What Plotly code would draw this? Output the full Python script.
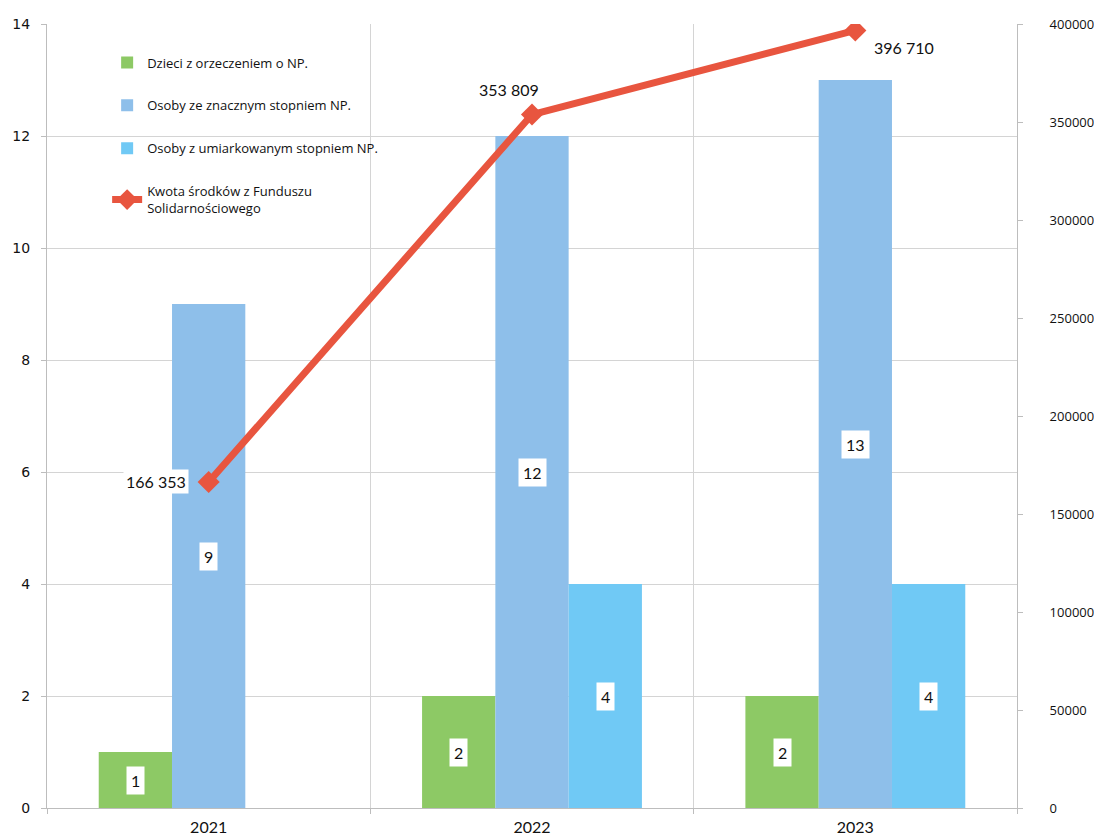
import plotly.graph_objects as go

# Dane
lata = ["2021", "2022", "2023"]
dzieci = [1, 2, 2]
znaczny = [9, 12, 13]
umiarkowany = [None, 4, 4]
kwota = [166353, 353809, 396710]

nazwy = [
    "Dzieci z orzeczeniem o NP.",
    "Osoby ze znacznym stopniem NP.",
    "Osoby z umiarkowanym stopniem NP.",
    "Kwota środków z Funduszu<br>Solidarnościowego",
]
kolory = ["#8DC965", "#8EBFEA", "#70C9F5"]
kolor_linii = "#E8553F"

BARGAP = 0.32
szer = (1 - BARGAP) / 3  # szerokość jednego słupka w jednostkach kategorii

fig = go.Figure()

serie = [dzieci, znaczny, umiarkowany]
for i, (vals, kol) in enumerate(zip(serie, kolory)):
    fig.add_trace(go.Bar(
        x=lata, y=vals, name=nazwy[i], marker_color=kol,
        marker_line_width=0, legendgroup=f"g{i}", yaxis="y",
    ))

fig.add_trace(go.Scatter(
    x=lata, y=kwota, name=nazwy[3], mode="lines+markers", yaxis="y2",
    line=dict(color=kolor_linii, width=7),
    marker=dict(symbol="diamond", size=17, color=kolor_linii),
    legendgroup="g3",
))

# etykiety wartości słupków (białe pola w połowie wysokości)
annotations = []
for i, vals in enumerate(serie):
    off = (i - 1) * szer
    for j, v in enumerate(vals):
        if v is None:
            continue
        annotations.append(dict(
            x=j + off, y=v / 2, xref="x", yref="y", text=str(v),
            showarrow=False, bgcolor="white", borderpad=4,
            font=dict(family="Lato", size=16, color="#111"),
        ))

# etykiety kwot przy punktach linii
przes = [(-53, 0), (-23, 25), (49, -17)]
for j, v in enumerate(kwota):
    annotations.append(dict(
        x=j, y=v, xref="x", yref="y2",
        text=f"{v:,}".replace(",", " "),
        showarrow=False, bgcolor="white", borderpad=2,
        xshift=przes[j][0], yshift=przes[j][1],
        font=dict(family="Lato", size=16, color="#111"),
    ))

grid = "#D4D4D4"
osie = "#BDBDBD"

fig.update_layout(
    width=1094, height=839,
    margin=dict(l=47, r=77, t=24, b=31),
    paper_bgcolor="white", plot_bgcolor="white",
    barmode="group", bargap=BARGAP, bargroupgap=0,
    annotations=annotations,
    showlegend=True,
    legend=dict(
        x=0.062, y=0.97, xanchor="left", yanchor="top",
        bgcolor="rgba(255,255,255,0)", borderwidth=0,
        traceorder="grouped", tracegroupgap=23, itemwidth=30,
        font=dict(family="Open Sans", size=13, color="#111"),
    ),
    shapes=[dict(
        type="rect", xref="paper", yref="paper",
        x0=0.019, x1=0.39, y0=0.749, y1=0.995,
        fillcolor="white", line_width=0, layer="between",
    )],
    xaxis=dict(
        type="category", tickson="boundaries", automargin=False,
        showgrid=True, gridcolor=grid, gridwidth=1,
        ticks="outside", ticklen=5, tickcolor=osie,
        showline=True, linecolor=osie, ticklabelstandoff=5,
        tickfont=dict(family="Lato", size=16, color="#111"),
    ),
    yaxis=dict(
        range=[0, 14], dtick=2, showgrid=True, gridcolor=grid,
        ticks="outside", ticklen=5, tickcolor=osie, automargin=False,
        showline=True, linecolor=osie, zeroline=False,
        ticklabelstandoff=8,
        tickfont=dict(family="DejaVu Sans", size=14, color="#111"),
    ),
    yaxis2=dict(
        range=[0, 400000], dtick=50000, overlaying="y", side="right",
        showgrid=False, tickformat="d", automargin=False,
        ticks="outside", ticklen=5, tickcolor=osie,
        showline=True, linecolor=osie, zeroline=False,
        ticklabelstandoff=24,
        tickfont=dict(family="Open Sans", size=13, color="#111"),
    ),
)

fig.write_html("out.html")
